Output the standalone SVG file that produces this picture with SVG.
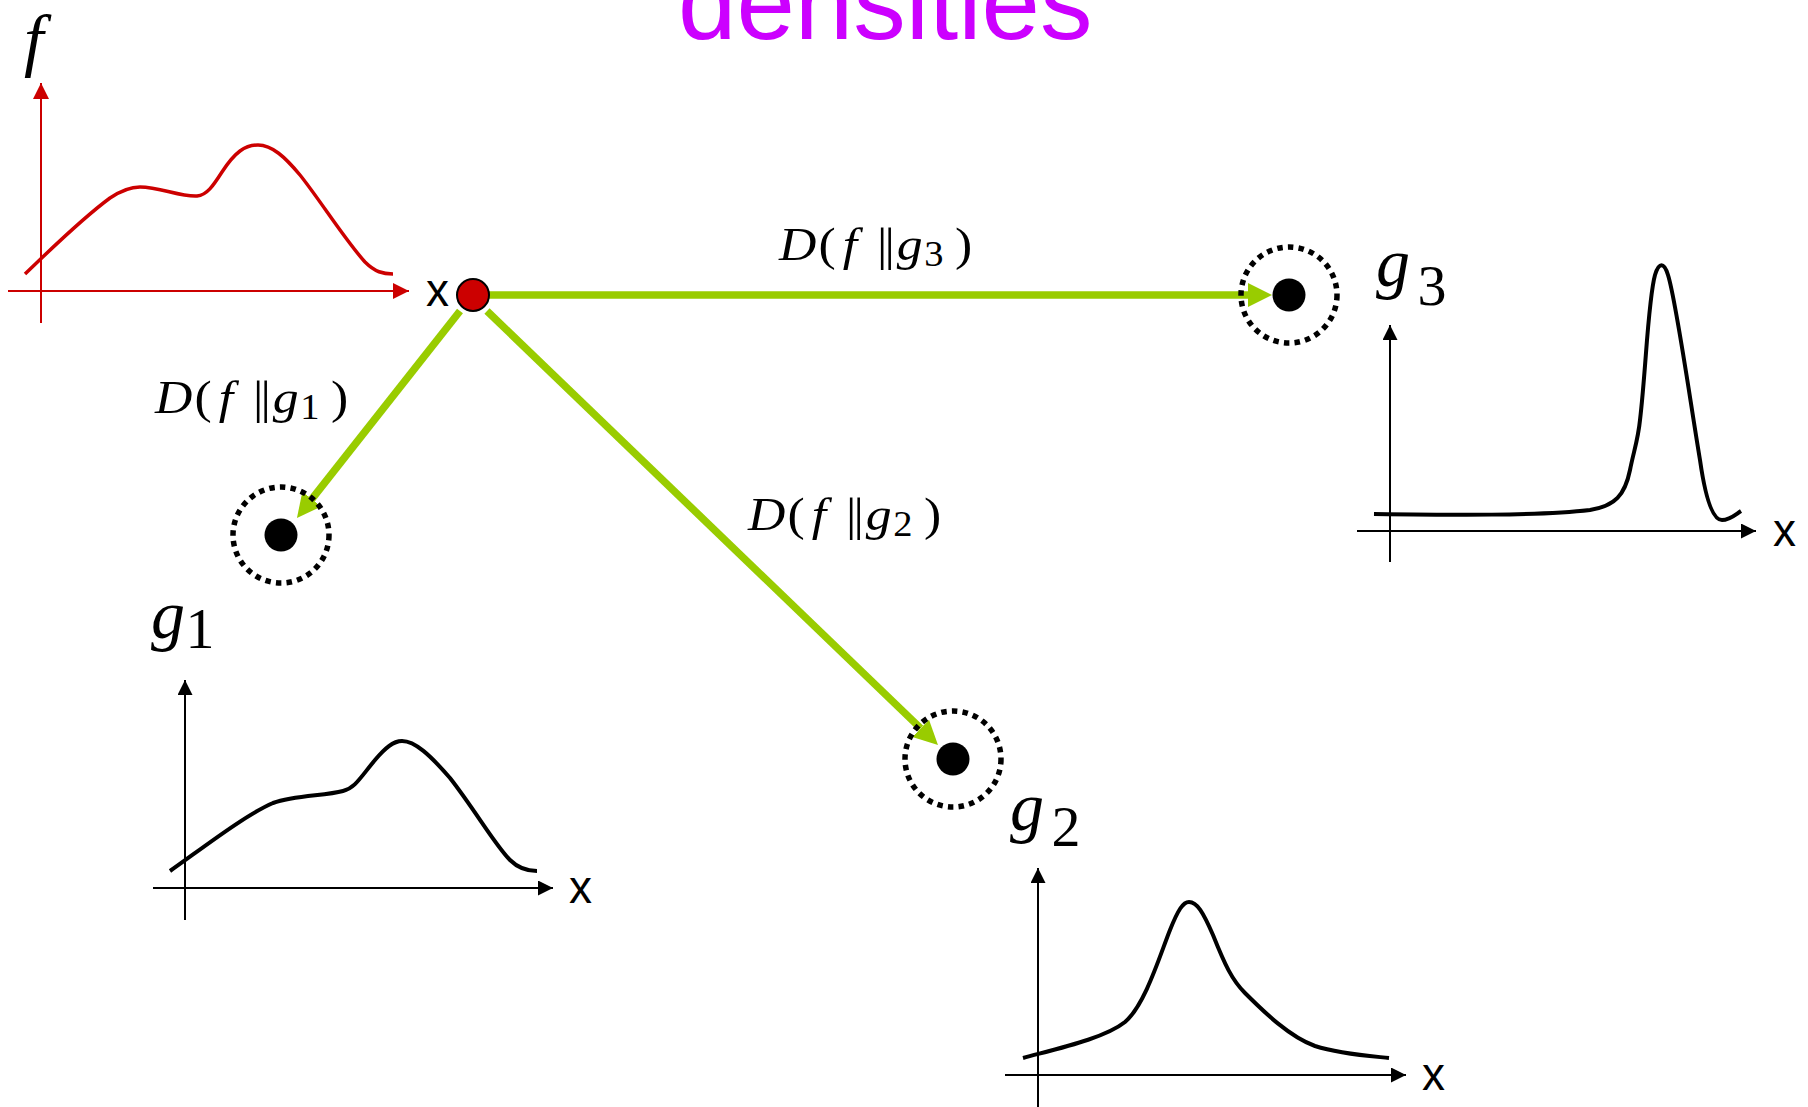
<svg xmlns="http://www.w3.org/2000/svg" width="1808" height="1107" viewBox="0 0 1808 1107">
<defs>
<style>
.title{font-family:"Liberation Sans",Arial,sans-serif;font-size:105px;fill:#CC00FF}
.ax{fill:none;stroke:#000;stroke-width:2}
.axr{fill:none;stroke:#CC0000;stroke-width:2}
.crv{fill:none;stroke:#000;stroke-width:4;stroke-linecap:butt}
.crvr{fill:none;stroke:#CC0000;stroke-width:3.5}
.xl{font-family:"Liberation Sans",Arial,sans-serif;font-size:46px;fill:#000}
.m{font-family:"Liberation Serif","Times New Roman",serif;fill:#000}
.it{font-style:italic}
.lab{font-size:47px}
.sub{font-size:35px}
.big{font-size:68px}
.dig{font-size:58px}
.ring{fill:none;stroke:#000;stroke-width:5.5;stroke-dasharray:5.5 5.2}
.green{fill:none;stroke:#99CC00;stroke-width:7.5}
</style>
<marker id="ah" markerUnits="userSpaceOnUse" markerWidth="16" markerHeight="16" refX="15" refY="7.5" orient="auto" viewBox="0 0 16 16"><path d="M0,0 L15,7.5 L0,15 z" fill="#000"/></marker>
<marker id="ahr" markerUnits="userSpaceOnUse" markerWidth="18" markerHeight="18" refX="16" refY="8" orient="auto" viewBox="0 0 18 18"><path d="M0,0 L16,8 L0,16 z" fill="#CC0000"/></marker>
<marker id="ahg" markerUnits="userSpaceOnUse" markerWidth="26" markerHeight="26" refX="0" refY="12" orient="auto" viewBox="0 0 26 26"><path d="M0,0 L24,12 L0,24 z" fill="#99CC00"/></marker>
</defs>
<rect width="1808" height="1107" fill="#fff"/>
<text class="title" x="678" y="39">densities</text>

<g id="f-plot">
<text class="m it" x="24" y="63" font-size="70">f</text>
<line class="axr" x1="41" y1="323" x2="41" y2="83" marker-end="url(#ahr)"/>
<line class="axr" x1="8" y1="291" x2="409" y2="291" marker-end="url(#ahr)"/>
<path class="crvr" d="M25,274 C45,255 80,220 110,198 C122,190 132,187 140,187 C160,187 180,197 197,196 C207,195 213,186 222,172 C235,152 245,145 258,145 C272,145 285,157 300,175 C320,200 345,240 365,262 C375,272 383,274 393,274"/>
<text class="xl" x="426" y="306">x</text>
</g>

<g id="connectors">
<line class="green" x1="489" y1="295" x2="1248" y2="295" marker-end="url(#ahg)"/>
<line class="green" x1="460" y1="311" x2="311.8" y2="499.1" marker-end="url(#ahg)"/>
<line class="green" x1="487" y1="311" x2="920.7" y2="728.4" marker-end="url(#ahg)"/>
</g>

<g id="x-point">
<circle cx="473" cy="295" r="16" fill="#CC0000" stroke="#000" stroke-width="2"/>
</g>

<g id="label-g1">
<g transform="translate(155,413) scale(1.1,1)">
<text class="m lab"><tspan class="it" x="0" y="0">D</tspan><tspan x="36" y="0">(</tspan><tspan class="it" x="58" y="0">f</tspan><tspan x="89" y="0">|</tspan><tspan x="96" y="0">|</tspan><tspan class="it" x="107" y="0">g</tspan><tspan class="sub" x="132" y="6">1</tspan><tspan x="160" y="0">)</tspan></text>
</g>
</g>
<g id="label-g2">
<g transform="translate(748,530) scale(1.1,1)">
<text class="m lab"><tspan class="it" x="0" y="0">D</tspan><tspan x="36" y="0">(</tspan><tspan class="it" x="58" y="0">f</tspan><tspan x="89" y="0">|</tspan><tspan x="96" y="0">|</tspan><tspan class="it" x="107" y="0">g</tspan><tspan class="sub" x="132" y="6">2</tspan><tspan x="160" y="0">)</tspan></text>
</g>
</g>
<g id="label-g3">
<g transform="translate(779,260) scale(1.1,1)">
<text class="m lab"><tspan class="it" x="0" y="0">D</tspan><tspan x="36" y="0">(</tspan><tspan class="it" x="58" y="0">f</tspan><tspan x="89" y="0">|</tspan><tspan x="96" y="0">|</tspan><tspan class="it" x="107" y="0">g</tspan><tspan class="sub" x="132" y="6">3</tspan><tspan x="160" y="0">)</tspan></text>
</g>
</g>

<g id="node-g1">
<circle class="ring" cx="281" cy="535" r="48"/>
<circle cx="281" cy="535" r="16.5" fill="#000"/>
<text class="m big it" x="151" y="638">g</text>
<text class="m dig" x="200" y="648" text-anchor="middle">1</text>
<line class="ax" x1="185" y1="920" x2="185" y2="680" marker-end="url(#ah)"/>
<line class="ax" x1="153" y1="888" x2="553" y2="888" marker-end="url(#ah)"/>
<path class="crv" d="M170,871 C200,850 245,815 273,803 C295,795 325,796 343,791 C355,788 360,778 375,760 C385,748 393,741 402,741 C415,741 430,755 450,778 C475,810 495,845 510,860 C518,868 527,871 537,871"/>
<text class="xl" x="569" y="903">x</text>
</g>

<g id="node-g2">
<circle class="ring" cx="953" cy="759" r="48"/>
<circle cx="953" cy="759" r="16.5" fill="#000"/>
<text class="m big it" x="1010" y="830">g</text>
<text class="m dig" x="1066" y="846" text-anchor="middle">2</text>
<line class="ax" x1="1038" y1="1107" x2="1038" y2="868" marker-end="url(#ah)"/>
<line class="ax" x1="1005" y1="1075" x2="1406" y2="1075" marker-end="url(#ah)"/>
<path class="crv" d="M1023,1058 C1060,1048 1105,1038 1125,1022 C1145,1005 1160,955 1170,930 C1178,910 1183,902 1189,902 C1197,902 1203,912 1213,935 C1225,965 1232,980 1245,993 C1265,1013 1290,1037 1315,1046 C1340,1054 1370,1056 1389,1058"/>
<text class="xl" x="1422" y="1090">x</text>
</g>

<g id="node-g3">
<circle class="ring" cx="1289" cy="295" r="48"/>
<circle cx="1289" cy="295" r="16.5" fill="#000"/>
<text class="m big it" x="1376" y="286">g</text>
<text class="m dig" x="1432" y="305" text-anchor="middle" font-size="62">3</text>
<line class="ax" x1="1390" y1="562" x2="1390" y2="325" marker-end="url(#ah)"/>
<line class="ax" x1="1357" y1="531" x2="1756" y2="531" marker-end="url(#ah)"/>
<path class="crv" d="M1374,514 C1450,515 1540,516 1590,510 C1615,506 1625,495 1630,470 C1634,450 1638,440 1640,420 C1646,370 1648,300 1655,275 C1659,262 1664,262 1668,275 C1676,300 1690,400 1700,460 C1705,495 1712,520 1722,520 C1730,520 1736,514 1741,511"/>
<text class="xl" x="1773" y="546">x</text>
</g>
</svg>
